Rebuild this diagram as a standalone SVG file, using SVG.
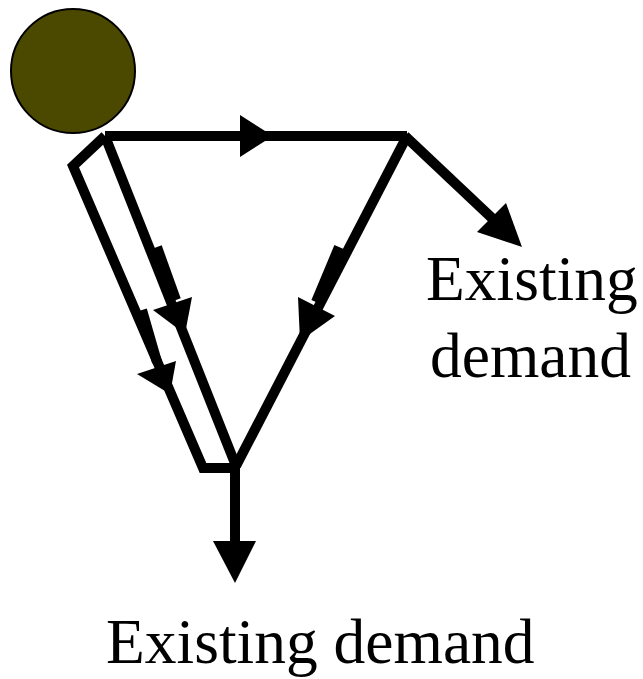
<svg xmlns="http://www.w3.org/2000/svg" width="643" height="679" viewBox="0 0 643 679">
<style>
.ln{fill:none;stroke:#000;stroke-width:10;stroke-linejoin:miter;stroke-miterlimit:10}
.ah{fill:#000;stroke:none}
.lbl{font-family:"Liberation Serif","Times New Roman",serif;font-size:63.5px;fill:#000}
</style>
<rect width="643" height="679" fill="#fff"/>
<g id="source">
<circle cx="73" cy="71" r="62" fill="#4b4800" stroke="#000" stroke-width="2"/>
</g>
<g id="connectors">
<path class="ln" d="M105,136 L407,136"/>
<path class="ln" d="M105,136 L73,166 L203,468 L236,468"/>
<path class="ln" d="M105,136 L236,466"/>
<path class="ln" d="M407,136 L236,466"/>
<path class="ln" d="M405,136 L494,220"/>
<path class="ln" d="M235,466 L235,546"/>
<path class="ln" d="M157,247 L176,300"/>
<path class="ln" d="M142,310 L157,362"/>
<path class="ln" d="M339,247 L316,302"/>
<polygon class="ah" points="240,115 273,136 240,157"/>
<polygon class="ah" points="153,310 192,297 185,334"/>
<polygon class="ah" points="137,374 176,361 170,394"/>
<polygon class="ah" points="298,297 335,316 300,341"/>
<polygon class="ah" points="477,232 506,203 522,247"/>
<polygon class="ah" points="213,541 256,541 235,583"/>
</g>
<g id="label-right">
<text class="lbl" x="426" y="300">Existing</text>
<text class="lbl" x="430" y="377">demand</text>
</g>
<g id="label-bottom">
<text class="lbl" x="106" y="663">Existing demand</text>
</g>
</svg>
